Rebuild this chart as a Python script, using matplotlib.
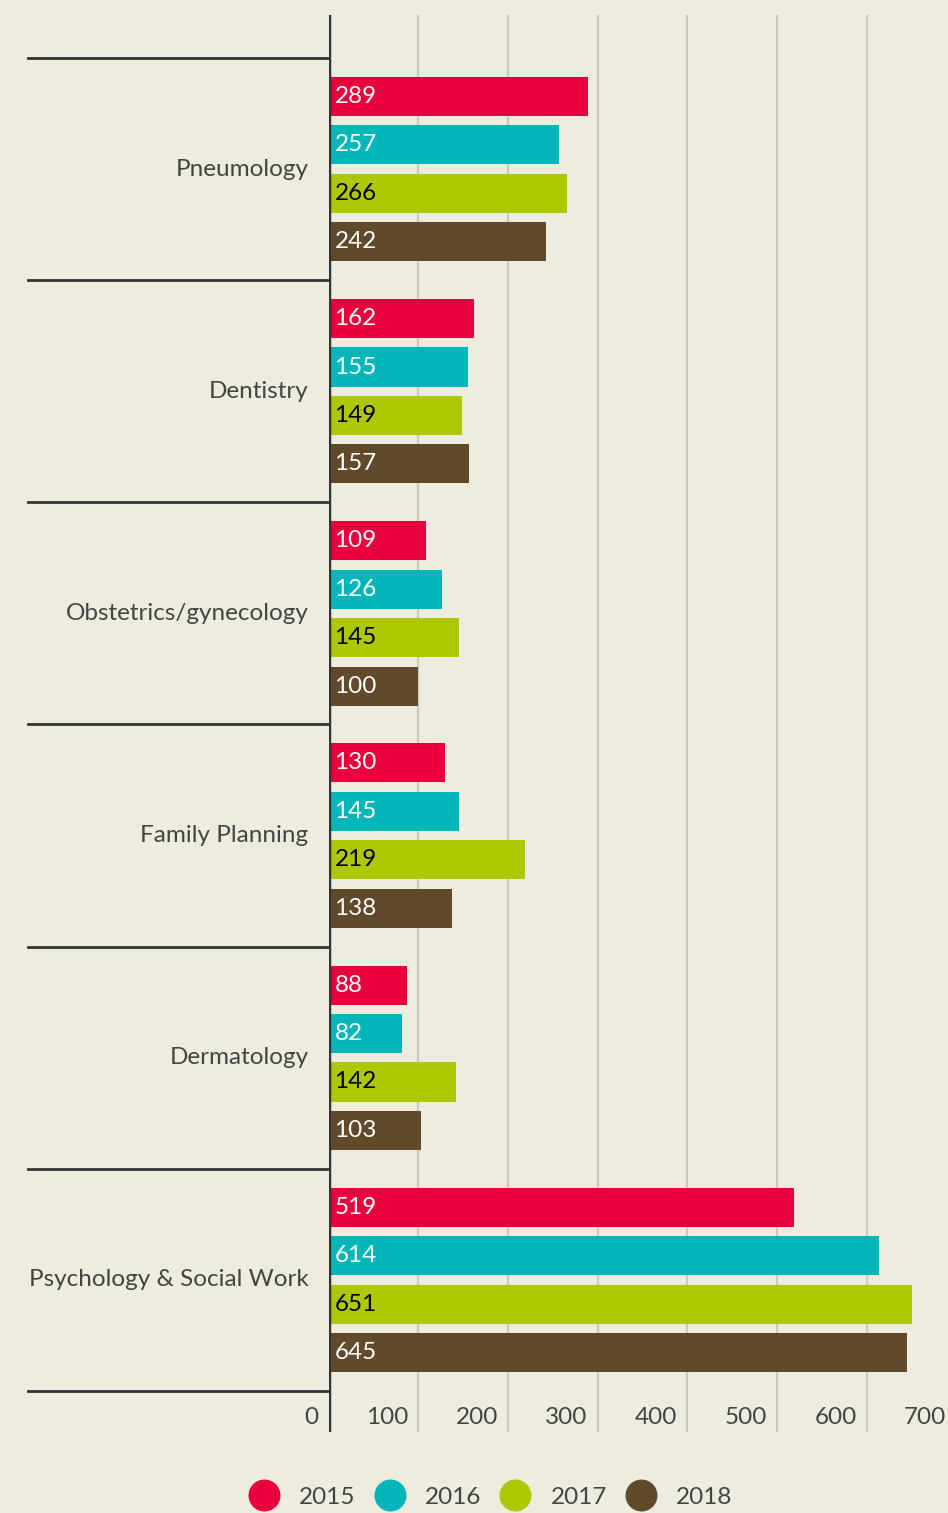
import matplotlib
matplotlib.use("Agg")
import matplotlib.pyplot as plt
from matplotlib.lines import Line2D

categories = ["Pneumology", "Dentistry", "Obstetrics/gynecology",
              "Family Planning", "Dermatology", "Psychology & Social Work"]
years = ["2015", "2016", "2017", "2018"]
v2015 = [289, 162, 109, 130, 88, 519]
v2016 = [257, 155, 126, 145, 82, 614]
v2017 = [266, 149, 145, 219, 142, 651]
v2018 = [242, 157, 100, 138, 103, 645]
xticks = [0, 100, 200, 300, 400, 500, 600, 700]

COLORS = ["#e8003d", "#00b6b9", "#adc800", "#614a2b"]
LABEL_COLORS = ["white", "white", "black", "white"]
BG = "#edecdf"
DARK = "#333333"
GRID = "#cbcbbd"
TEXT = "#444444"
FONT = "Lato"
FS = 17.5

plt.rcParams["font.family"] = [FONT, "DejaVu Sans"]

fig = plt.figure(figsize=(9.48, 15.13), dpi=100)
fig.patch.set_facecolor(BG)
ax = fig.add_axes([328.5 / 948, 81 / 1513, 1 - 328.5 / 948, 1417 / 1513])
ax.set_facecolor(BG)

series = [v2015, v2016, v2017, v2018]
offsets = [-0.327, -0.109, 0.109, 0.327]
bar_h = 0.176

for k, vals in enumerate(series):
    ys = [i + offsets[k] for i in range(len(categories))]
    ax.barh(ys, vals, height=bar_h, color=COLORS[k], zorder=3)
    for y, v in zip(ys, vals):
        ax.annotate(str(v), (0, y), xytext=(6, 0), textcoords="offset pixels",
                    ha="left", va="center", fontsize=FS, color=LABEL_COLORS[k],
                    zorder=4)

ax.set_xlim(0, 690.6)
ax.set_ylim(5.5 + 41 / 222.2, -0.5 - 43 / 222.2)

# gridlines and axis line
for t in xticks[1:]:
    ax.axvline(t, color=GRID, lw=1.6, zorder=1)
ax.axvline(0, color=DARK, lw=3.2, zorder=5)

# tick labels, drawn inside the plot just left of each gridline
for t in xticks:
    ax.annotate(str(t), (t, 14 / 1417), xycoords=ax.get_xaxis_transform(),
                xytext=(-10, 0), textcoords="offset pixels",
                ha="right", va="center", fontsize=FS, color=TEXT,
                annotation_clip=False)

# category separators reaching out to the left
ytr = ax.get_yaxis_transform()
x_left = -(328.5 - 28) / 620
for i in range(len(categories) + 1):
    ax.plot([x_left, 0], [i - 0.5, i - 0.5], transform=ytr, color=DARK,
            lw=2, clip_on=False, zorder=5)

for i, c in enumerate(categories):
    ax.annotate(c, (0, i), xycoords=ytr, xytext=(-20, 0),
                textcoords="offset pixels", ha="right", va="center",
                fontsize=FS, color=TEXT, annotation_clip=False)

for s in ax.spines.values():
    s.set_visible(False)
ax.set_xticks([])
ax.set_yticks([])

handles = [Line2D([], [], marker="o", ls="", ms=22, color=c) for c in COLORS]
fig.legend(handles, years, loc="center", bbox_to_anchor=(491 / 948, 1 - 1497 / 1513),
           ncol=4, frameon=False, fontsize=FS, labelcolor=TEXT,
           handletextpad=0.85, columnspacing=0.8, handlelength=1.2)

fig.savefig("out.png", dpi=100, facecolor=BG)
